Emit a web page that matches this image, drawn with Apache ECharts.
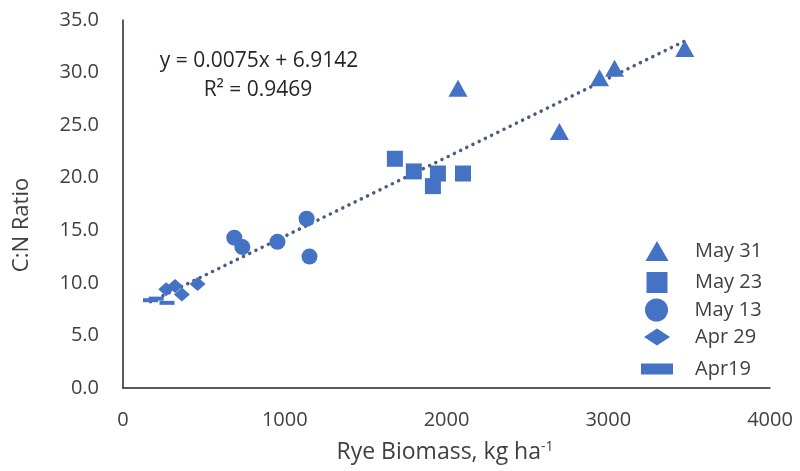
<!DOCTYPE html>
<html>
<head>
<meta charset="utf-8">
<script src="https://cdn.jsdelivr.net/npm/echarts@6/dist/echarts.min.js"></script>
<style>
  html, body { margin: 0; padding: 0; background: #ffffff; }
  #chart { width: 800px; height: 471px; }
</style>
</head>
<body>
<div id="chart"></div>
<script>
// ---- data ----
const xTicks = [0, 1000, 2000, 3000, 4000];
const yTicks = [0, 5, 10, 15, 20, 25, 30, 35];

const may31 = [[2071, 28.5], [2698, 24.4], [2946, 29.5], [3039, 30.4], [3473, 32.3]];
const may23 = [[1681, 21.8], [1798, 20.6], [1947, 20.4], [1916, 19.2], [2102, 20.4]];
const may13 = [[688, 14.3], [738, 13.4], [955, 13.9], [1135, 16.1], [1153, 12.5]];
const apr29 = [[267, 9.4], [322, 9.7], [364, 8.9], [461, 9.9]];
const apr19 = [[170, 8.35], [205, 8.5], [272, 8.1]];

const trendLine = [[170, 8.2], [3473, 33.0]];

const seriesNames = ['May 31', 'May 23', 'May 13', 'Apr 29', 'Apr19'];
const equationText = 'y = 0.0075x + 6.9142';
const r2Text = 'R\u00B2 = 0.9469';

// ---- chart ----
const BLUE = '#4472C4';
const FONT = '"Open Sans", sans-serif';
const TXT = '#404040';

const chart = echarts.init(document.getElementById('chart'), null, { renderer: 'canvas' });

function legendItem(name, icon, w, h, cy) {
  return {
    data: [{ name: name, icon: icon }],
    orient: 'vertical',
    left: 657 - w / 2,
    top: cy - Math.max(h, 22) / 2,
    padding: 0,
    itemWidth: w,
    itemHeight: h,
    selectedMode: false,
    textStyle: { fontFamily: FONT, fontSize: 20, color: TXT, padding: [0, 0, 0, 33 - w / 2] }
  };
}

const option = {
  animation: false,
  backgroundColor: '#ffffff',
  grid: { left: 123, right: 30, top: 20, bottom: 83 },
  xAxis: {
    type: 'value',
    min: xTicks[0], max: xTicks[xTicks.length - 1], interval: 1000,
    axisLine: { show: true, lineStyle: { color: '#262626', width: 1.5 } },
    axisTick: { show: false },
    splitLine: { show: false },
    axisLabel: { fontFamily: FONT, fontSize: 20, color: TXT, margin: 22,
      formatter: v => String(v) }
  },
  yAxis: {
    type: 'value',
    min: yTicks[0], max: yTicks[yTicks.length - 1], interval: 5,
    axisLine: { show: true, lineStyle: { color: '#262626', width: 1.5 } },
    axisTick: { show: false },
    splitLine: { show: false },
    axisLabel: { fontFamily: FONT, fontSize: 20, color: TXT, margin: 24,
      formatter: v => v.toFixed(1) }
  },
  legend: [
    legendItem(seriesNames[0], 'triangle', 23, 20, 252),
    legendItem(seriesNames[1], 'rect', 21, 21, 283),
    legendItem(seriesNames[2], 'circle', 24, 23, 310),
    legendItem(seriesNames[3], 'diamond', 26, 17, 338),
    legendItem(seriesNames[4], 'rect', 32, 11, 370)
  ],
  graphic: [
    { type: 'text', style: { text: equationText, x: 259, y: 61, align: 'center', verticalAlign: 'middle',
        font: '21px "Open Sans", sans-serif', fill: '#262626' } },
    { type: 'text', style: { text: r2Text, x: 258, y: 90, align: 'center', verticalAlign: 'middle',
        font: '21px "Open Sans", sans-serif', fill: '#262626' } },
    { type: 'text', rotation: Math.PI / 2, x: 22, y: 225,
      style: { text: 'C:N Ratio', x: 0, y: 0, align: 'center', verticalAlign: 'middle',
        font: '22px "Open Sans", sans-serif', fill: TXT } },
    { type: 'text',
      style: { text: 'Rye Biomass, kg ha{sup|-1}', x: 445, y: 452, align: 'center', verticalAlign: 'middle',
        font: '23px "Open Sans", sans-serif', fill: TXT,
        rich: { sup: { fontFamily: FONT, fontSize: 14, verticalAlign: 'top', padding: [0, 0, 10, 0], fill: TXT } } } }
  ],
  series: [
    {
      name: 'trend', type: 'line', data: trendLine, symbol: 'none', silent: true,
      lineStyle: { color: '#4b5c80', width: 3.5, type: [0.1, 6.8], cap: 'round' },
      z: 1
    },
    { name: seriesNames[0], type: 'scatter', data: may31, symbol: 'triangle', symbolSize: [19, 17],
      itemStyle: { color: BLUE, opacity: 1 }, z: 3 },
    { name: seriesNames[1], type: 'scatter', data: may23, symbol: 'rect', symbolSize: 16,
      itemStyle: { color: BLUE, opacity: 1 }, z: 3 },
    { name: seriesNames[2], type: 'scatter', data: may13, symbol: 'circle', symbolSize: 16,
      itemStyle: { color: BLUE, opacity: 1 }, z: 3 },
    { name: seriesNames[3], type: 'scatter', data: apr29, symbol: 'diamond', symbolSize: [16, 14],
      itemStyle: { color: BLUE, opacity: 1 }, z: 3 },
    { name: seriesNames[4], type: 'scatter', data: apr19, symbol: 'rect', symbolSize: [15, 4],
      itemStyle: { color: BLUE, opacity: 1 }, z: 3 }
  ]
};

chart.setOption(option);
</script>
</body>
</html>
